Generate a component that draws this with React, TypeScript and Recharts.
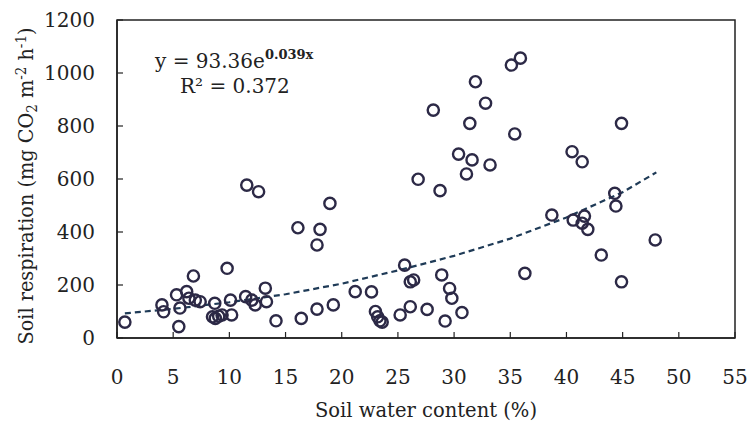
import React from 'react';
import { ScatterChart, Scatter, XAxis, YAxis, ReferenceArea, Customized } from 'recharts';

const waterContent = [
  0.7, 4.0, 4.15, 5.3, 5.6, 5.5, 6.2, 6.8, 6.4, 6.97, 7.4, 8.7, 8.5, 8.75, 9.05, 9.35, 9.8, 10.1, 10.2,
  11.45, 12.0, 12.3, 13.2, 13.3, 14.15, 16.4, 17.8, 19.25, 21.2, 22.65, 23.0, 23.2, 23.4, 23.6, 25.2,
  25.6, 26.1, 26.1, 26.4, 27.6, 28.9, 29.2, 29.6, 29.8, 30.7, 36.3, 38.7, 40.6, 41.4, 41.6, 41.9, 43.1,
  44.3, 44.4, 47.9, 44.9, 11.55, 12.6, 18.95, 16.1, 18.07, 17.8, 35.9, 35.1, 31.9, 32.8, 28.15, 31.4,
  35.4, 30.4, 31.6, 33.2, 31.1, 26.8, 28.75, 44.9, 40.5, 41.4,
];
const respiration = [
  60, 125, 99, 163, 113, 43, 175, 234, 150, 143, 137, 131, 80, 74, 82, 87, 263, 143, 87,
  156, 143, 125, 188, 137, 65, 74, 109, 125, 175, 174, 100, 80, 65, 60, 87,
  275, 118, 212, 219, 108, 238, 64, 187, 150, 96, 244, 464, 445, 433, 460, 410, 313,
  546, 498, 370, 212, 577, 552, 508, 416, 410, 351, 1056, 1030, 967, 886, 860, 810,
  770, 694, 672, 653, 619, 599, 556, 810, 703, 665,
];

const trendWater = [0.7, 5, 10, 15, 20, 25, 30, 35, 40, 45, 48];
const trendResp = [93, 110, 135, 165, 205, 255, 310, 375, 455, 550, 625];

const xTicks = [0, 5, 10, 15, 20, 25, 30, 35, 40, 45, 50, 55];
const yTicks = [0, 200, 400, 600, 800, 1000, 1200];

const points = waterContent.map((x, i) => ({ x, y: respiration[i] }));
const trend = trendWater.map((x, i) => ({ x, y: trendResp[i] }));

const FONT = "'DejaVu Serif', serif";
const TEXT = '#222';

const Ring = (props: any) => {
  const { cx, cy } = props;
  if (cx == null || cy == null) return <g />;
  return <circle cx={cx} cy={cy} r={5.6} fill="none" stroke="#2c2946" strokeWidth={2.4} />;
};
const NoDot = () => <g />;

const Overlay = () => (
  <g fontFamily={FONT} fill={TEXT}>
    <text x={155} y={68} fontSize={20}>
      y = 93.36e<tspan dy={-9} fontSize={13} fontWeight="bold">0.039x</tspan>
    </text>
    <text x={180} y={93} fontSize={20}>R² = 0.372</text>
    <text x={426} y={417} fontSize={20} textAnchor="middle" textLength={222} lengthAdjust="spacingAndGlyphs">
      Soil water content (%)
    </text>
    <text
      transform="translate(33,186) rotate(-90)"
      x={0}
      y={0}
      fontSize={20}
      textAnchor="middle"
      textLength={317}
      lengthAdjust="spacingAndGlyphs"
    >
      Soil respiration (mg CO<tspan dy={4} fontSize={14}>2</tspan>
      <tspan dy={-4}> m</tspan>
      <tspan dy={-7} fontSize={14}>-2</tspan>
      <tspan dy={7}> h</tspan>
      <tspan dy={-7} fontSize={14}>-1</tspan>
      <tspan dy={7}>)</tspan>
    </text>
  </g>
);

export default function App() {
  return (
    <div style={{ position: 'absolute', left: 0, top: 0, width: 748, height: 421, background: '#fff' }}>
      <ScatterChart width={748} height={421} margin={{ top: 20, right: 13, bottom: 0, left: 0 }}>
        <XAxis
          type="number"
          dataKey="x"
          domain={[0, 55]}
          ticks={xTicks}
          height={83}
          tickSize={-6}
          tickMargin={38}
          axisLine={{ stroke: TEXT, strokeWidth: 1.5 }}
          tickLine={{ stroke: TEXT, strokeWidth: 1.2 }}
          tick={{ fontSize: 20, fill: TEXT, fontFamily: FONT }}
          allowDataOverflow
        />
        <YAxis
          type="number"
          dataKey="y"
          domain={[0, 1200]}
          ticks={yTicks}
          width={117}
          tickSize={-6}
          tickMargin={28}
          axisLine={{ stroke: TEXT, strokeWidth: 1.5 }}
          tickLine={{ stroke: TEXT, strokeWidth: 1.2 }}
          tick={{ fontSize: 20, fill: TEXT, fontFamily: FONT }}
          allowDataOverflow
        />
        <ReferenceArea x1={0} x2={55} y1={0} y2={1200} fill="none" fillOpacity={0} stroke={TEXT} strokeWidth={1.5} />
        <Scatter
          data={trend}
          line={{ stroke: '#1f3b57', strokeWidth: 2.2, strokeDasharray: '6 4' }}
          shape={NoDot}
          isAnimationActive={false}
        />
        <Scatter data={points} shape={Ring} isAnimationActive={false} />
        <Customized component={Overlay} />
      </ScatterChart>
    </div>
  );
}
